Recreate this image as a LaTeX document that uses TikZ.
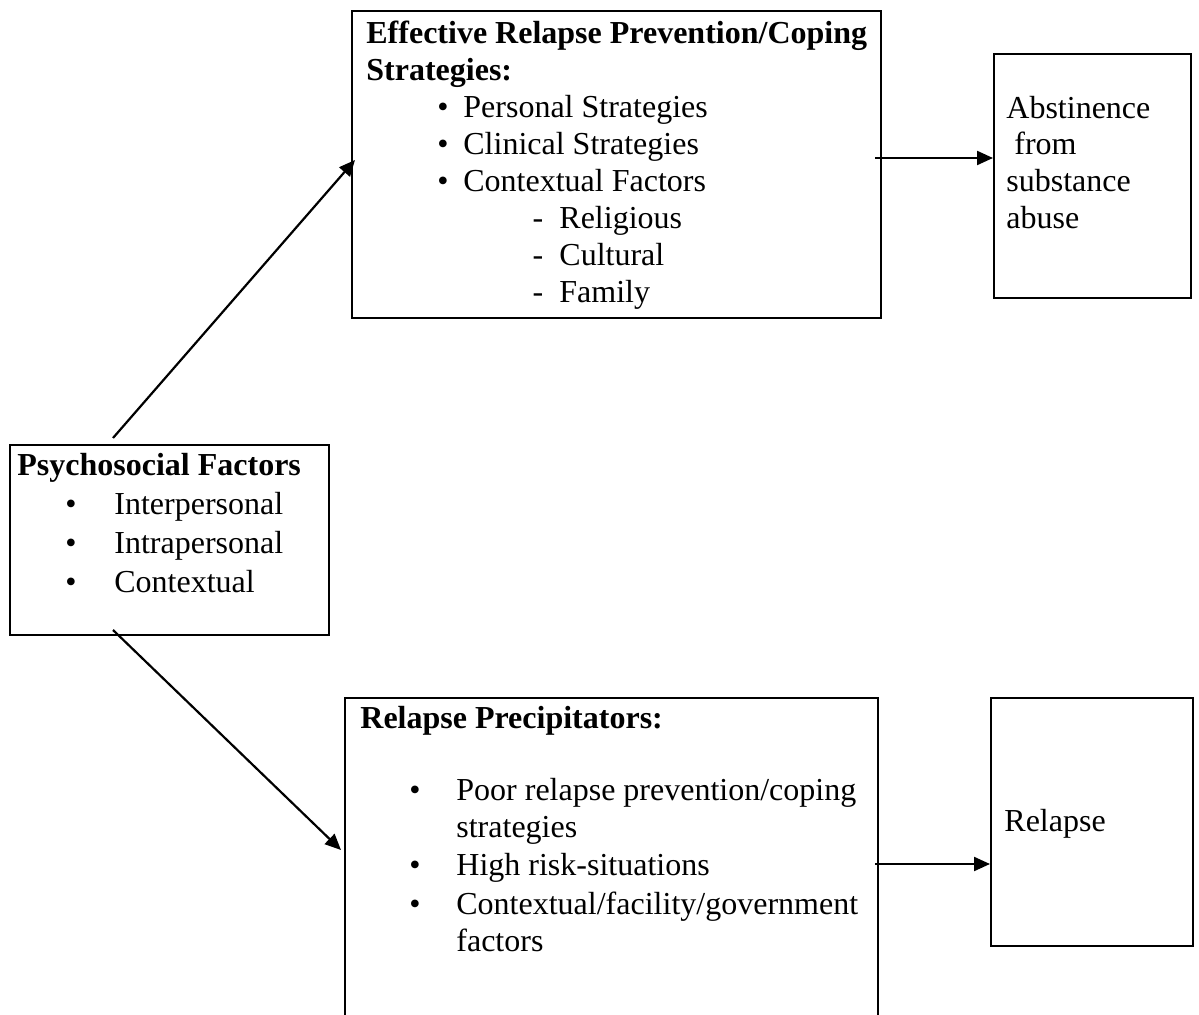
\documentclass[tikz,border=0pt]{standalone}
\usepackage{fontspec}
\setmainfont{Liberation Serif}
\usetikzlibrary{arrows.meta}
\begin{document}
\begin{tikzpicture}[x=0.5pt,y=-0.5pt,
  box/.style={draw, line width=1.1pt, inner sep=0pt, anchor=north west},
  txt/.style={inner sep=0pt, anchor=base west, font=\fontsize{16}{19}\selectfont},
  btxt/.style={inner sep=0pt, anchor=base west, font=\fontsize{16}{19}\selectfont\bfseries},
  glyph/.style={inner sep=0pt, anchor=base, font=\fontsize{16}{19}\selectfont},
  arr/.style={line width=1.1pt, -{Triangle[length=8pt,width=7pt]}}]
\clip (0,0) rectangle (1199,1015);
% boxes
\node[box, minimum width=264.5pt, minimum height=153.5pt] (eff) at (351,10) {};
\node[box, minimum width=98.5pt, minimum height=122pt] (abst) at (993,53) {};
\node[box, minimum width=159.5pt, minimum height=95pt] (psy) at (9,444) {};
\node[box, minimum width=266.5pt, minimum height=170pt] (prec) at (344,697) {};
\node[box, minimum width=101pt, minimum height=124pt] (rel) at (990,697) {};
% top box text
\node[btxt] (e1) at (366,44) {Effective Relapse Prevention/Coping};
\node[btxt] (e2) at (366,81) {Strategies:};
\node[glyph] (eb1) at (443,118) {•};
\node[glyph] (eb2) at (443,155) {•};
\node[glyph] (eb3) at (443,192) {•};
\node[txt] (e3) at (463,118) {Personal Strategies};
\node[txt] (e4) at (463,155) {Clinical Strategies};
\node[txt] (e5) at (463,192) {Contextual Factors};
\node[glyph] (ed1) at (538,229) {-};
\node[glyph] (ed2) at (538,266) {-};
\node[glyph] (ed3) at (538,303) {-};
\node[txt] (e6) at (559,229) {Religious};
\node[txt] (e7) at (559,266) {Cultural};
\node[txt] (e8) at (559,303) {Family};
% abstinence text
\node[txt] (a1) at (1006,119) {Abstinence};
\node[txt] (a2) at (1006,155) {\ from};
\node[txt] (a3) at (1006,192) {substance};
\node[txt] (a4) at (1006,229) {abuse};
% psychosocial text
\node[btxt] (p0) at (17,476) {Psychosocial Factors};
\node[glyph] (pb1) at (71,515) {•};
\node[glyph] (pb2) at (71,554) {•};
\node[glyph] (pb3) at (71,593) {•};
\node[txt] (p1) at (114,515) {Interpersonal};
\node[txt] (p2) at (114,554) {Intrapersonal};
\node[txt] (p3) at (114,593) {Contextual};
% precipitators text
\node[btxt] (r0) at (360,728) {Relapse Precipitators:};
\node[glyph] (rb1) at (415,800) {•};
\node[glyph] (rb2) at (415,875) {•};
\node[glyph] (rb3) at (415,914) {•};
\node[txt] (r1) at (456,800) {Poor relapse prevention/coping};
\node[txt] (r2) at (456,837) {strategies};
\node[txt] (r3) at (456,875) {High risk-situations};
\node[txt] (r4) at (456,914) {Contextual/facility/government};
\node[txt] (r5) at (456,951) {factors};
% relapse text
\node[txt] (l1) at (1004,831) {Relapse};
% connectors
\coordinate (s1) at (113,438);
\coordinate (t1) at (355,160);
\draw[arr] (s1) -- (t1);
\coordinate (s2) at (113,630);
\coordinate (t2) at (341,850);
\draw[arr] (s2) -- (t2);
\coordinate (s3) at (875,158);
\draw[arr] (s3) -- (s3 -| abst.west);
\coordinate (s4) at (875,864);
\draw[arr] (s4) -- (s4 -| rel.west);
\end{tikzpicture}
\end{document}
